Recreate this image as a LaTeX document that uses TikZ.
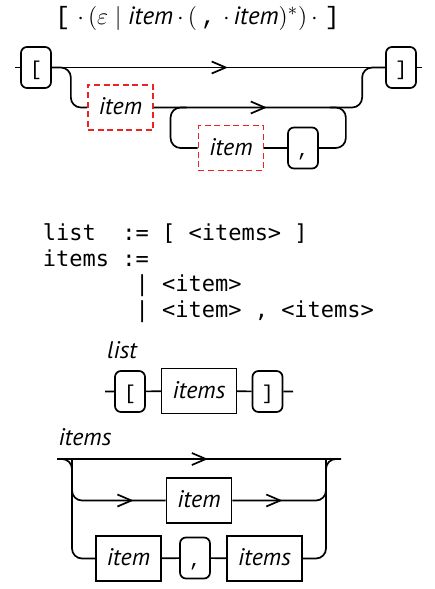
\documentclass[tikz,border=0pt]{standalone}
\usepackage{fontspec}
\setmainfont{PT Sans}
\setmonofont{DejaVu Sans Mono}
\newfontfamily\termfont{Liberation Mono}
\usetikzlibrary{positioning}
\usetikzlibrary{calc}
\usetikzlibrary{arrows.meta}
\usetikzlibrary{decorations.markings}
\tikzset{
    % Open chevron used along the tracks
    >={Straight Barb[length=7pt,width=6pt]},
%
    % Terminal symbols sit in rounded boxes
    term/.style={
        draw, rounded corners=3pt, font=\fontsize{10}{12}\termfont,
        minimum width=15pt, minimum height=20.5pt, inner sep=0pt,
        text height=8pt, text depth=0pt},
%
    % Non-terminals sit in square boxes
    nonterm/.style={
        draw, font=\fontsize{12}{14}\selectfont\itshape,
        minimum height=22.5pt, inner xsep=5.5pt, inner ysep=0pt,
        text height=8.5pt, text depth=1.5pt},
%
    % Marks the boxes that the expression above refers to
    focus/.style={draw=focus red, dash pattern=on 3pt off 1.8pt},
%
    % Rule names over each diagram
    rule name/.style={font=\fontsize{12}{14}\selectfont\itshape, inner sep=0pt},
%
    % Track lines, with an arrow a given distance along
    track/.style={rounded corners=5pt},
    fwd/.style={postaction={decorate}, decoration={markings,
        mark=at position #1 with {\arrow{>}}}},
    bwd/.style={postaction={decorate}, decoration={markings,
        mark=at position #1 with {\arrowreversed{>}}}}}
\definecolor{focus red}{RGB}{235,35,35}

\begin{document}
\begin{tikzpicture}[x=0.5pt, y=-0.5pt, line width=0.85pt]
\useasboundingbox (0,0) rectangle (434,589);

% The expression
\node [inner sep=0pt, font=\fontsize{12.5}{15}\selectfont] (regex) at (197.5,18.5)
    {{\termfont[}\;$\cdot\,\bigl(\varepsilon\mid{}$\textit{item}$\,\cdot\,($\,{\termfont,}\;$\cdot\,$\textit{item}$)^{*}\bigr)\,\cdot\;${\termfont]}};

% First diagram
\node [term] (open1) at (36,67.5) {[};
\node [term] (close1) at (401,67.5) {]};
\node [nonterm, focus] (item1) at (120.5,107.5) {item};
\node [nonterm, focus] (item2) at (231,148) {item};
\node [term] (comma1) at (303,148) {,};
\coordinate (in1) at (15,67.5);
\coordinate (out1) at (422,67.5);

\draw (in1) -- (open1) (close1) -- (out1);
\draw [fwd=88pt] (open1) -- (close1);
\draw [track] (item1.west) -| ([xshift=9.5pt]open1.east) -- (open1.east);
\draw [track, fwd=56.5pt] (item1.east) -| ([xshift=-11.5pt]close1.west) -- (close1.west);
\draw [track] (item2.west) -| ([xshift=-13.5pt]item2.west |- item1.east) -- ++(16,0);
\draw [track] (comma1.east) -| ([xshift=13.5pt]comma1.east |- item1.east) -- ++(-16,0);
\draw (item2) -- (comma1);

% The grammar
\node [anchor=base west, inner sep=0pt, align=left,
    font=\fontsize{11}{12.75}\ttfamily] (grammar) at (42,317)
    {list~~:=~[~<items>~]\\
     items~:=\\
     ~~~~~~~|~<item>\\
     ~~~~~~~|~<item>~,~<items>};

% Rule: list
\node [rule name] (list name) at (122,350) {list};
\node [term] (open2) at (130,391.5) {[};
\node [nonterm] (items2) at (199,391) {items};
\node [term] (close2) at (267.5,391.5) {]};
\coordinate (in2) at (105,391.5);
\coordinate (out2) at (293,391.5);
\draw (in2) -- (open2) -- (items2) -- (close2) -- (out2);

% Rule: items
\node [rule name] (items name) at (85,437) {items};
\node [nonterm] (item3) at (199,500.5) {item};
\node [nonterm] (item4) at (128.5,558.5) {item};
\node [term] (comma3) at (195,558) {,};
\node [nonterm] (items3) at (264.5,558.5) {items};
\coordinate (in3) at (57,459);
\coordinate (out3) at (341,459);

\draw [fwd=75.5pt] (in3) -- (out3);
\draw [track] (item4.west) -| ([xshift=7.5pt]in3) -- (in3);
\draw [track] (items3.east) -| ([xshift=-7.5pt]out3) -- (out3);
\draw [track, bwd=16pt] (item3.west) -| ([xshift=7.5pt]in3);
\draw [track, fwd=25pt] (item3.east) -| ([xshift=-7.5pt]out3);
\draw (item4) -- (comma3) -- (items3);

\end{tikzpicture}
\end{document}
